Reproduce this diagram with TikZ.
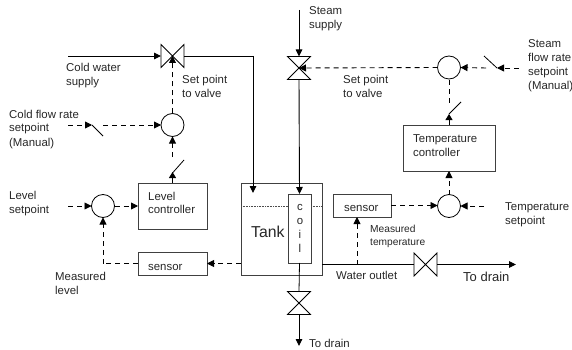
\documentclass[tikz,border=0pt]{standalone}
\usepackage{fontspec}
\setmainfont{Liberation Sans}
\usetikzlibrary{arrows.meta}
\tikzset{
  pipe/.style={line width=0.9pt,-{Triangle[length=7pt,width=6.5pt]}},
  plain/.style={line width=0.8pt},
  sig/.style={line width=0.9pt,dash pattern=on 5pt off 4pt,-{Triangle[length=7pt,width=7pt]}},
  sigline/.style={line width=0.9pt,dash pattern=on 5pt off 4pt},
  solidarrow/.style={line width=0.9pt,-{Triangle[length=6pt,width=7pt]}},
  blk/.style={draw=black!75,line width=1pt,inner sep=0pt,outer sep=0pt},
  sum/.style={circle,draw,line width=0.8pt,minimum size=23pt,inner sep=0pt,outer sep=0pt},
  valvebox/.style={minimum width=23pt,minimum height=23pt,inner sep=0pt,outer sep=0pt},
  lbl/.style={align=left,anchor=base west,inner sep=0pt,font=\fontsize{11.4}{14}\selectfont,text=black!85},
  swt/.style={line width=0.8pt},
}
\begin{document}
\begin{tikzpicture}[x=1pt,y=-1pt]
\useasboundingbox (0,0) rectangle (572,350);
% valves
\node[valvebox] (v1) at (172.5,56) {};
\node[valvebox] (v2) at (299,68) {};
\node[valvebox] (v3) at (299,303) {};
\node[valvebox] (v4) at (425.5,264.5) {};
\foreach \v in {v1,v4}
  \draw[plain,line join=miter] (\v.north west) -- (\v.south east) -- (\v.north east) -- (\v.south west) -- cycle;
\foreach \v in {v2,v3}
  \draw[plain,line join=miter] (\v.north west) -- (\v.south east) -- (\v.south west) -- (\v.north east) -- cycle;
% summing circles
\node[sum] (s1) at (172.5,125) {};
\node[sum] (s2) at (103,206) {};
\node[sum] (s3) at (449,206) {};
\node[sum] (s4) at (449,67.5) {};
% boxes
\node[blk,minimum width=69pt,minimum height=46pt] (lc) at (172.5,206) {};
\node[blk,minimum width=69pt,minimum height=23pt] (ls) at (172.5,263.5) {};
\node[blk,minimum width=81pt,minimum height=92pt] (tank) at (281.5,229) {};
\node[blk,minimum width=23pt,minimum height=69pt,fill=white] (coil) at (299.5,228.5) {};
\node[blk,minimum width=58pt,minimum height=23pt] (ts) at (362,205.5) {};
\node[blk,minimum width=92pt,minimum height=46pt] (tc) at (449,148) {};
% free ends
\coordinate (cwin) at (68,56);
\coordinate (cwc) at (253,56);
\coordinate (stin) at (299,10);
\coordinate (draina) at (299,346);
\coordinate (drainb) at (516,264.5);
\coordinate (cf0) at (68,125);
\coordinate (cf1) at (92,125);
\coordinate (cf2) at (103,136);
\coordinate (cf3) at (103,125);
\coordinate (ls0) at (68,206);
\coordinate (ml) at (103,263.5);
\coordinate (tsp) at (484,206);
\coordinate (sf0) at (519,68);
\coordinate (sf1) at (497,68);
\coordinate (sf2) at (484,56);
\coordinate (sf3) at (486,68);
\coordinate (mt) at (357,264.5);
% process lines
\draw[pipe] (cwin) -- (v1.west);
\draw[plain] (v1.east) -- (cwc);
\draw[pipe] (cwc) -- (253,193);
\draw[pipe] (stin) -- (v2.north);
\draw[pipe] (v2.south) -- (coil.north);
\draw[plain] (coil.south) -- (v3.north);
\draw[pipe] (v3.south) -- (draina);
\draw[plain] (tank.east |- v4) -- (v4.west);
\draw[pipe] (v4.east) -- (drainb);
% tank level
\draw[line width=0.6pt,densely dotted,black!70] (tank.west |- 0,206) -- (coil.west |- 0,206);
\draw[line width=0.6pt,densely dotted,black!70] (coil.east |- 0,206) -- (tank.east |- 0,206);
% signals
\draw[sig] (s1.north) -- (v1.center);
\draw[sig] (cf0) -- (cf1);
\draw[swt] (cf1) -- (cf2);
\draw[sig] (cf3) -- (s1.west);
\draw[solidarrow] (lc.north) -- (172.5,172);
\draw[swt] (172.5,173) -- (184,160);
\draw[sig] (172.5,157) -- (s1.south);
\draw[sig] (ls0) -- (s2.west);
\draw[sig] (s2.east) -- (lc.west |- s2);
\draw[sigline] (ls.west) -- (ml);
\draw[sig] (ml) -- (s2.south);
\draw[sig] (tank.west |- ls) -- (ls.east);
\draw[sig] (mt) -- (mt |- ts.south);
\draw[sig] (ts.east) -- (s3.west |- ts);
\draw[sig] (tsp) -- (s3.east);
\draw[sig] (s3.north) -- (tc.south);
\draw[solidarrow] (tc.north) -- (449,114);
\draw[swt] (449,114) -- (461,102);
\draw[sigline] (449,103) -- (s4.south);
\draw[sig] (s4.west) -- (v2.center);
\draw[sig] (sf0) -- (sf1);
\draw[swt] (sf1) -- (sf2);
\draw[sig] (sf3) -- (s4.east);
% labels
\node[lbl] (t1) at (66,86) {Cold water\\supply};
\node[lbl] (t2) at (182,98) {Set point\\to valve};
\node[lbl] (t3) at (9,146) {Cold flow rate\\setpoint\\(Manual)};
\node[lbl] (t4) at (9,213) {Level\\setpoint};
\node[lbl,font=\fontsize{11.4}{13}\selectfont] (t5) at (148,213) {Level\\controller};
\node[lbl] (t6) at (148,270) {sensor};
\node[lbl] (t7) at (55,294) {Measured\\level};
\node[lbl,font=\fontsize{15.8}{14}\selectfont] (t8) at (251,237) {Tank};
\node[lbl,align=center,anchor=base,font=\fontsize{11.4}{13.7}\selectfont] (t9) at (300,252) {c\\o\\i\\l};
\node[lbl] (t10) at (309,29) {Steam\\supply};
\node[lbl] (t11) at (343,98) {Set point\\to valve};
\node[lbl] (t12) at (528,90) {Steam\\flow rate\\setpoint\\(Manual)};
\node[lbl] (t13) at (413,156) {Temperature\\controller};
\node[lbl] (t14) at (344,211) {sensor};
\node[lbl,font=\fontsize{10.2}{13}\selectfont] (t15) at (370,245) {Measured\\temperature};
\node[lbl] (t16) at (505,224) {Temperature\\setpoint};
\node[lbl] (t17) at (336,279) {Water outlet};
\node[lbl,font=\fontsize{13}{14}\selectfont] (t18) at (463,281) {To drain};
\node[lbl] (t19) at (309,347) {To drain};
\end{tikzpicture}
\end{document}
